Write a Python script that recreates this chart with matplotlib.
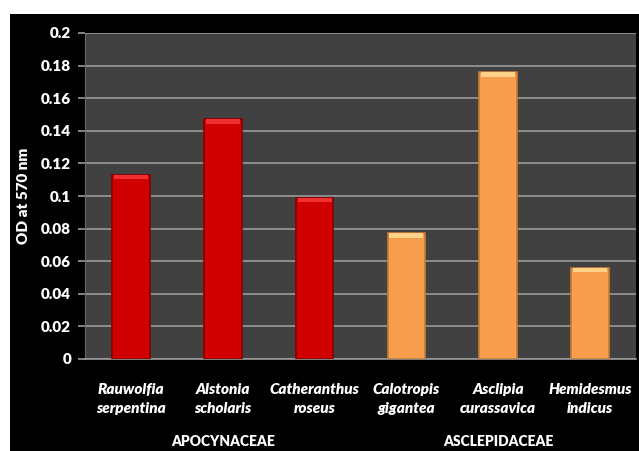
import matplotlib.pyplot as plt
from matplotlib.patches import Rectangle

plt.rcParams['font.family'] = ['Lato', 'DejaVu Sans']

# absorbance readings per plant extract
species = ["Rauwolfia\nserpentina", "Alstonia\nscholaris", "Catheranthus\nroseus",
           "Calotropis\ngigantea", "Asclipia\ncurassavica", "Hemidesmus\nindicus"]
od_values = [0.113, 0.147, 0.099, 0.077, 0.176, 0.056]
family = ["APOCYNACEAE", "APOCYNACEAE", "APOCYNACEAE",
          "ASCLEPIDACEAE", "ASCLEPIDACEAE", "ASCLEPIDACEAE"]
families = ["APOCYNACEAE", "ASCLEPIDACEAE"]
y_ticks = [0, 0.02, 0.04, 0.06, 0.08, 0.1, 0.12, 0.14, 0.16, 0.18, 0.2]
y_tick_labels = ["0", "0.02", "0.04", "0.06", "0.08", "0.1", "0.12", "0.14", "0.16", "0.18", "0.2"]

face = {"APOCYNACEAE": "#d10000", "ASCLEPIDACEAE": "#f79e4c"}
edge = {"APOCYNACEAE": "#8a0000", "ASCLEPIDACEAE": "#c77a35"}
shine = {"APOCYNACEAE": "#f03030", "ASCLEPIDACEAE": "#ffd28a"}

fig = plt.figure(figsize=(6.39, 4.51), dpi=100)
fig.patch.set_facecolor("white")
# black slide background behind the chart
fig.patches.append(Rectangle((10 / 639, 0), 1, 1 - 14 / 451, transform=fig.transFigure,
                             facecolor="black", edgecolor="none", zorder=-10))

ax = fig.add_axes([85 / 639, 1 - 359 / 451, 551 / 639, 326 / 451])
ax.set_facecolor("#414141")

x = list(range(len(species)))
colors = [face[f] for f in family]
edges = [edge[f] for f in family]
ax.bar(x, od_values, width=0.41, color=colors, edgecolor=edges, linewidth=1.2, zorder=3)
# bevel highlight along the top of each bar
cap = 0.0028
ax.bar(x, [cap] * len(x), bottom=[v - cap for v in od_values], width=0.37,
       color=[shine[f] for f in family], edgecolor="none", zorder=4)

ax.set_xlim(-0.5, len(species) - 0.5)
ax.set_ylim(0, 0.2)
ax.set_yticks(y_ticks)
ax.set_yticklabels(y_tick_labels)
ax.yaxis.grid(True, color="#9a9a9a", linewidth=1.2, zorder=1)
ax.set_axisbelow(True)

for side in ["top", "right"]:
    ax.spines[side].set_visible(False)
ax.spines["left"].set_color("#6a6a6a")
ax.spines["bottom"].set_color("#9a9a9a")
ax.spines["bottom"].set_linewidth(1.2)

ax.tick_params(axis="y", colors="#9a9a9a", length=5, width=1.2, labelcolor="white",
               labelsize=11, pad=5)
ax.tick_params(axis="x", length=0, pad=17)
ax.set_xticks(x)
ax.set_xticklabels(species, color="white", fontsize=11, fontstyle="italic",
                   fontweight="heavy", linespacing=1.55)
for lbl in ax.get_yticklabels():
    lbl.set_fontweight("heavy")

ax.set_ylabel("OD at 570 nm", color="white", fontsize=11, fontweight="heavy", labelpad=8)

# family names under each group
for fam in families:
    idx = [i for i, f in enumerate(family) if f == fam]
    mid = sum(idx) / len(idx)
    ax.text(mid, -0.0505, fam, transform=ax.transData, ha="center", va="center",
            color="white", fontsize=10, fontweight="heavy", clip_on=False)

fig.savefig("out.png", dpi=100, facecolor=fig.get_facecolor())
